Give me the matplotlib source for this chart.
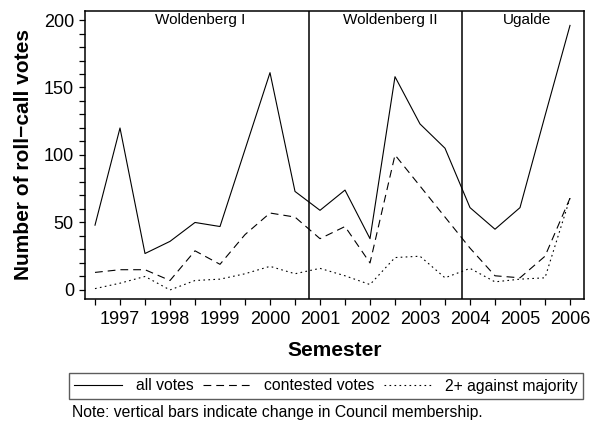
import matplotlib
matplotlib.use("Agg")
import matplotlib.pyplot as plt
from matplotlib.ticker import MultipleLocator

plt.rcParams['font.family'] = ['Liberation Sans', 'DejaVu Sans']

# semester index (1 = 1996-II ... 20 = 2006-I)
semesters = list(range(1, 21))
year_labels = ["1997", "1998", "1999", "2000", "2001",
               "2002", "2003", "2004", "2005", "2006"]
all_votes = [48, 120, 27, 36, 50, 47, 104, 161, 73, 59,
             74, 38, 158, 123, 105, 61, 45, 61, 129, 196]
contested_votes = [13, 15, 15, 7, 29, 19, 41, 57, 54, 38,
                   47, 20, 100, 77, 54, 31, 10.5, 9, 25, 68]
against_majority = [1, 5, 10, 0, 7, 8, 12, 17.5, 12, 16,
                    10.5, 4, 24, 25, 9, 16, 6, 8, 9, 68]
membership_changes = [9.57, 15.67]
councils = ["Woldenberg I", "Woldenberg II", "Ugalde"]
council_label_x = [5.2, 12.82, 18.27]

W, H = 597, 421
fig = plt.figure(figsize=(W / 100, H / 100), dpi=100)
ax = fig.add_axes([85 / W, 1 - 299 / H, (584 - 85) / W, (299 - 10.7) / H])

lw = 0.8
l1, = ax.plot(semesters, all_votes, color='black', lw=lw, linestyle='-',
              label='all votes')
l2, = ax.plot(semesters, contested_votes, color='black', lw=lw,
              linestyle=(0, (7, 4.5)), label='contested votes')
l3, = ax.plot(semesters, against_majority, color='black', lw=lw,
              linestyle=(0, (1.5, 3)), label='2+ against majority')

for xc in membership_changes:
    ax.axvline(xc, color='black', lw=1.1)

for name, xc in zip(councils, council_label_x):
    ax.text(xc, 200, name, ha='center', va='center', fontsize=11)

ax.set_xlim(0.6, 20.56)
ax.set_ylim(-6.7, 206.9)

ax.set_xticks(semesters)
xt = []
yi = 0
for s in semesters:
    if s % 2 == 0:
        xt.append(year_labels[yi])
        yi += 1
    else:
        xt.append("")
ax.set_xticklabels(xt)
ax.set_yticks([0, 50, 100, 150, 200])
ax.yaxis.set_minor_locator(MultipleLocator(10))
ax.tick_params(axis='both', which='both', direction='out', length=4,
               width=0.9, labelsize=13, color='black')
ax.tick_params(axis='x', pad=5)
ax.tick_params(axis='y', pad=4)
for sp in ax.spines.values():
    sp.set_linewidth(1.1)

ax.set_xlabel("Semester", fontsize=15, fontweight='bold', labelpad=9)
ax.set_ylabel("Number of roll\u2212call votes", fontsize=15,
              fontweight='bold', labelpad=8)

leg = fig.legend(handles=[l1, l2, l3], loc='center left',
                 bbox_to_anchor=(69 / W, 1 - 386 / H), ncol=3,
                 fontsize=11.3, frameon=True, fancybox=False,
                 edgecolor='#333333', handlelength=3.0, handletextpad=0.9,
                 columnspacing=0.6, borderpad=0.35, borderaxespad=0)
leg.get_frame().set_linewidth(1.0)

fig.text(71.7 / W, 1 - 413 / H,
         "Note: vertical bars indicate change in Council membership.",
         ha='left', va='center', fontsize=11.3)

fig.savefig("out.png", dpi=100)
